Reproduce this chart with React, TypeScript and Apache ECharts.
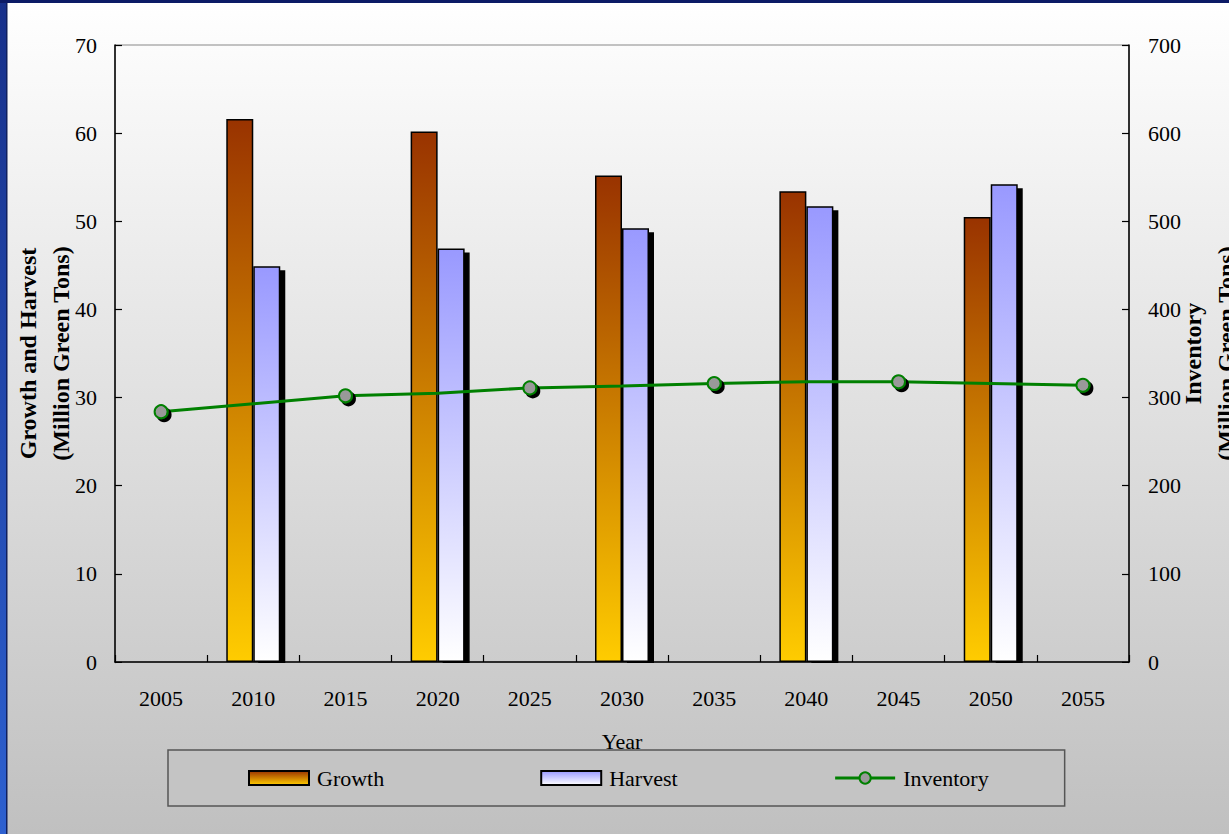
import { useEffect, useRef } from 'react';
import * as echarts from 'echarts';

// Projection years on the category axis
const years = ['2005', '2010', '2015', '2020', '2025', '2030', '2035', '2040', '2045', '2050', '2055'];

// Annual growth and harvest, million green tons (decade years only)
const growth: (number | string)[] = ['-', 61.6, '-', 60.2, '-', 55.2, '-', 53.4, '-', 50.5, '-'];
const harvest: (number | string)[] = ['-', 44.9, '-', 46.9, '-', 49.2, '-', 51.7, '-', 54.2, '-'];

// Standing inventory, million green tons
const inventory = [284, 293, 302, 305, 311, 313, 316, 318, 318, 316, 314];
// Years whose inventory point carries a marker
const markedYears = ['2005', '2015', '2025', '2035', '2045', '2055'];

// Axis scales
const leftMax = 70;
const leftStep = 10;
const rightMax = 700;
const rightStep = 100;

const FONT = "'Liberation Serif', 'Times New Roman', serif";

export default function App() {
  const ref = useRef<HTMLDivElement>(null);

  useEffect(() => {
    if (!ref.current) return;
    const chart = echarts.init(ref.current, undefined, { renderer: 'svg' });

    const growthFill = new echarts.graphic.LinearGradient(0, 0, 0, 1, [
      { offset: 0, color: '#993300' },
      { offset: 1, color: '#FFCC00' },
    ]);
    const harvestFill = new echarts.graphic.LinearGradient(0, 0, 0, 1, [
      { offset: 0, color: '#9999FF' },
      { offset: 1, color: '#FFFFFF' },
    ]);

    const axisLine = { show: true, lineStyle: { color: '#000', width: 1.5 } };
    const axisTick = { show: true, inside: true, length: 7, lineStyle: { color: '#000', width: 1.2 } };
    const axisLabel = { color: '#000', fontFamily: FONT, fontSize: 22 };

    chart.setOption({
      animation: false,
      backgroundColor: new echarts.graphic.LinearGradient(0, 0, 0, 1, [
        { offset: 0, color: '#FFFFFF' },
        { offset: 1, color: '#C0C0C0' },
      ]),
      textStyle: { fontFamily: FONT },
      graphic: [
        // window frame: blue left edge and navy top edge
        {
          type: 'rect',
          shape: { x: 0, y: 0, width: 6, height: 834 },
          style: {
            fill: new echarts.graphic.LinearGradient(0, 0, 0, 1, [
              { offset: 0, color: '#17308A' },
              { offset: 1, color: '#2D60D0' },
            ]),
          },
          z: 10,
        },
        { type: 'rect', shape: { x: 6, y: 0, width: 1.5, height: 834 }, style: { fill: '#10205E' }, z: 10 },
        { type: 'rect', shape: { x: 0, y: 0, width: 1229, height: 3 }, style: { fill: '#0C1B66' }, z: 10 },
        // keeps bar shadows from spilling under the category axis
        { type: 'rect', shape: { x: 116, y: 663, width: 1012, height: 5 }, style: { fill: '#CDCDCD' }, z: 10 },
      ],
      grid: {
        left: 115,
        right: 100,
        top: 45,
        bottom: 172,
        containLabel: false,
        outerBoundsMode: 'none',
        show: true,
        borderColor: '#888',
        borderWidth: 1,
        backgroundColor: 'transparent',
      },
      legend: {
        left: 168,
        top: 750,
        padding: [17, 76, 17, 80],
        itemGap: 156,
        itemWidth: 60,
        itemHeight: 14,
        backgroundColor: '#C4C4C4',
        borderColor: '#555',
        borderWidth: 1.5,
        textStyle: { fontFamily: FONT, fontSize: 22, color: '#000', lineHeight: 22, padding: [0, 0, 0, 3] },
        data: [
          { name: 'Growth', icon: 'rect' },
          { name: 'Harvest', icon: 'rect' },
          { name: 'Inventory', lineStyle: { width: 3 } },
        ],
      },
      xAxis: {
        type: 'category',
        data: years,
        boundaryGap: true,
        axisLine,
        axisTick: { ...axisTick, alignWithLabel: false, interval: 0 },
        axisLabel: { ...axisLabel, margin: 25, interval: 0 },
        splitLine: { show: false },
        name: 'Year',
        nameLocation: 'middle',
        nameGap: 68,
        nameMoveOverlap: false,
        nameTextStyle: { color: '#000', fontFamily: FONT, fontSize: 22 },
      },
      yAxis: [
        {
          type: 'value',
          min: 0,
          max: leftMax,
          interval: leftStep,
          axisLine,
          axisTick,
          axisLabel: { ...axisLabel, margin: 18 },
          splitLine: { show: false },
          name: 'Growth and Harvest\n(Million Green Tons)',
          nameLocation: 'middle',
          nameRotate: 90,
          nameGap: 38,
          nameMoveOverlap: false,
          nameTextStyle: { color: '#000', fontFamily: FONT, fontSize: 24, fontWeight: 'bold', lineHeight: 33 },
        },
        {
          type: 'value',
          position: 'right',
          min: 0,
          max: rightMax,
          interval: rightStep,
          axisLine,
          axisTick,
          axisLabel: { ...axisLabel, margin: 19 },
          splitLine: { show: false },
          name: 'Inventory\n(Million Green Tons)',
          nameLocation: 'middle',
          nameRotate: 90,
          nameGap: 47,
          nameMoveOverlap: false,
          nameTextStyle: { color: '#000', fontFamily: FONT, fontSize: 24, fontWeight: 'bold', lineHeight: 33 },
        },
      ],
      series: [
        {
          name: 'Growth',
          type: 'bar',
          data: growth,
          barWidth: 27,
          barGap: '0%',
          itemStyle: { color: growthFill, borderColor: '#000', borderWidth: 1.5 },
        },
        {
          name: 'Harvest',
          type: 'bar',
          data: harvest,
          barWidth: 27,
          barGap: '0%',
          itemStyle: {
            color: harvestFill,
            borderColor: '#000',
            borderWidth: 1.5,
            shadowColor: '#000',
            shadowBlur: 0,
            shadowOffsetX: 5,
            shadowOffsetY: 4,
          },
        },
        {
          name: 'Inventory',
          type: 'line',
          yAxisIndex: 1,
          symbol: 'circle',
          symbolSize: 13,
          data: years.map((y, i) =>
            markedYears.includes(y) ? inventory[i] : { value: inventory[i], symbol: 'none' }
          ),
          lineStyle: { color: '#008000', width: 3 },
          itemStyle: {
            color: '#999999',
            borderColor: '#008000',
            borderWidth: 2,
            shadowColor: '#000',
            shadowBlur: 0,
            shadowOffsetX: 3,
            shadowOffsetY: 3,
          },
          z: 5,
        },
      ],
    });

    return () => chart.dispose();
  }, []);

  return (
    <div
      ref={ref}
      style={{ position: 'fixed', left: 0, top: 0, width: 1229, height: 834 }}
    />
  );
}
